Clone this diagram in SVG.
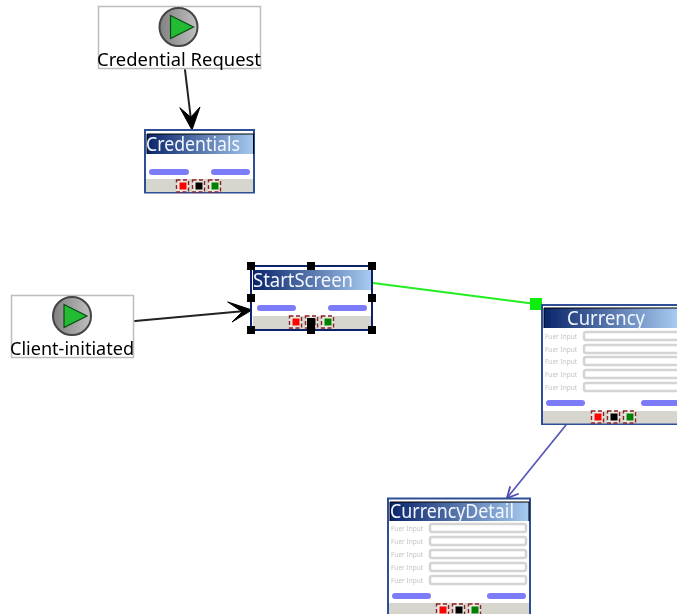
<svg xmlns="http://www.w3.org/2000/svg" width="677" height="614" viewBox="0 0 677 614">
<defs>
<linearGradient id="tb" x1="0" x2="1" y1="0" y2="0"><stop offset="0" stop-color="#0a246a"/><stop offset="1" stop-color="#a6caf0"/></linearGradient>
<linearGradient id="ball" x1="0" x2="1" y1="0" y2="0"><stop offset="0" stop-color="#808080"/><stop offset="1" stop-color="#c0c0c0"/></linearGradient>
<filter id="soft" x="0" y="0" width="677" height="614" filterUnits="userSpaceOnUse"><feGaussianBlur stdDeviation="0.5"/></filter>
<g id="start"><circle r="19" fill="url(#ball)" stroke="#444" stroke-width="2"/><path d="M-8-11.500L15 0L-8 11.500Z" fill="#22bb33" stroke="#0a4a14" stroke-width="1.200"/></g>
<g id="ports">
<rect x="-21.500" y="-6" width="12" height="12" class="pf"/><rect x="-18.500" y="-3.500" width="7" height="7" fill="#f00"/>
<rect x="-5.500" y="-6" width="12" height="12" class="pf"/><rect x="-2.500" y="-3.500" width="7" height="7" fill="#000"/>
<rect x="10.500" y="-6" width="12" height="12" class="pf"/><rect x="13.500" y="-3.500" width="7" height="7" fill="#008000"/>
</g>
<g id="row"><text x="0" y="3" class="inp">Fuer Input</text></g>
</defs>
<style>
text{font-family:"Noto Sans","Open Sans","DejaVu Sans",sans-serif}
.start{fill:#fff;stroke:#bdbdbd;stroke-width:1.500}
.lbl{font-size:18.500px;fill:#000}
.scr{fill:#fff;stroke:#2f4f96;stroke-width:2}
.title{font-size:19px;fill:#f2f6ff}
.foot{fill:#d6d6ce}
.btn{fill:#7c7cf8}
.pf{fill:#e8e8e2;stroke:#8a2020;stroke-width:1.400;stroke-dasharray:4 2.500}
.inp{font-size:6.500px;fill:#c4c4c4}
.fld{fill:#fff;stroke:#d4d4d4;stroke-width:2.500}
.h{fill:#000}
</style>
<rect width="677" height="614" fill="#fff"/>
<g filter="url(#soft)">
<g id="connectors" fill="none" stroke-linecap="round">
<path d="M185 70L191 120" stroke="#222" stroke-width="2"/>
<path d="M180 108L192 130L200 107L191 117Z" fill="#000" stroke="#000"/>
<path d="M135 321L245 311" stroke="#222" stroke-width="2"/>
<path d="M228 302L252 310L232 322L242 312Z" fill="#000" stroke="#000"/>
<path d="M373 283L536 304" stroke="#22ee22" stroke-width="1.800"/>
<rect x="530" y="298" width="12" height="12" fill="#11ee11" stroke="none"/>
<path d="M566 425L507 498" stroke="#5a5ab8" stroke-width="1.800"/>
<path d="M510 487L507 498L518 494" stroke="#4a4ab0" stroke-width="1.800"/>
</g>
<g id="credential-request">
<rect x="98.500" y="6.500" width="162" height="62" class="start"/>
<use href="#start" x="178.500" y="27"/>
<text x="97" y="66" class="lbl" textLength="164" lengthAdjust="spacingAndGlyphs">Credential Request</text>
</g>
<g id="credentials">
<rect x="145" y="130" width="109" height="62.500" class="scr"/>
<rect x="147" y="134" width="107" height="20" fill="url(#tb)"/>
<path d="M147 154V134H253.500V154" fill="none" stroke="#000"/>
<text x="146" y="150.500" class="title" textLength="94" lengthAdjust="spacingAndGlyphs">Credentials</text>
<rect x="149" y="169" width="40" height="6" rx="3" class="btn"/><rect x="211" y="169" width="39" height="6" rx="3" class="btn"/>
<rect x="146" y="179" width="107" height="13" class="foot"/>
<use href="#ports" x="198" y="186"/>
</g>
<g id="client-initiated">
<rect x="11.500" y="295.500" width="122" height="62" class="start"/>
<use href="#start" x="72" y="316"/>
<text x="10" y="355" class="lbl" textLength="124" lengthAdjust="spacingAndGlyphs">Client-initiated</text>
</g>
<g id="startscreen">
<rect x="251" y="266" width="121" height="64" class="scr" style="stroke:#0a246a"/>
<rect x="253" y="270" width="118" height="20" fill="url(#tb)"/>
<text x="253" y="286.500" class="title" textLength="100" lengthAdjust="spacingAndGlyphs">StartScreen</text>
<rect x="257" y="305" width="39" height="6" rx="3" class="btn"/><rect x="328" y="305" width="39" height="6" rx="3" class="btn"/>
<rect x="253" y="316" width="118" height="13" class="foot"/>
<use href="#ports" x="311" y="322"/>
<g class="h">
<rect x="247" y="262" width="8" height="8"/><rect x="307" y="262" width="8" height="8"/><rect x="368" y="262" width="8" height="8"/>
<rect x="247" y="294" width="8" height="8"/><rect x="368" y="294" width="8" height="8"/>
<rect x="247" y="326" width="8" height="8"/><rect x="307" y="326" width="8" height="8"/><rect x="368" y="326" width="8" height="8"/>
<rect x="307" y="318" width="8" height="8"/>
</g>
</g>
<g id="currency">
<rect x="542" y="305" width="140" height="119" class="scr"/>
<rect x="544" y="308" width="133" height="20" fill="url(#tb)"/>
<path d="M544 328V308H677" fill="none" stroke="#000"/>
<text x="567" y="325" class="title" textLength="78" lengthAdjust="spacingAndGlyphs">Currency</text>
<use href="#row" x="545" y="336"/><use href="#row" x="545" y="349"/><use href="#row" x="545" y="361"/><use href="#row" x="545" y="374"/><use href="#row" x="545" y="387"/>
<rect x="584" y="332" width="100" height="8" rx="2" class="fld"/><rect x="584" y="345" width="100" height="8" rx="2" class="fld"/><rect x="584" y="357" width="100" height="8" rx="2" class="fld"/><rect x="584" y="370" width="100" height="8" rx="2" class="fld"/><rect x="584" y="383" width="100" height="8" rx="2" class="fld"/>
<rect x="546" y="400" width="39" height="6" rx="3" class="btn"/><rect x="641" y="400" width="39" height="6" rx="3" class="btn"/>
<rect x="543" y="411" width="134" height="12.500" class="foot"/>
<use href="#ports" x="613" y="417"/>
</g>
<g id="currencydetail">
<rect x="388" y="498.500" width="142" height="120" class="scr"/>
<rect x="390" y="502" width="139" height="19" fill="url(#tb)"/>
<path d="M390 521V502H529V521" fill="none" stroke="#000"/>
<text x="390" y="518" class="title" textLength="124" lengthAdjust="spacingAndGlyphs">CurrencyDetail</text>
<use href="#row" x="391" y="528"/><use href="#row" x="391" y="541"/><use href="#row" x="391" y="554"/><use href="#row" x="391" y="567"/><use href="#row" x="391" y="580"/>
<rect x="430" y="524" width="96" height="8" rx="2" class="fld"/><rect x="430" y="537" width="96" height="8" rx="2" class="fld"/><rect x="430" y="550" width="96" height="8" rx="2" class="fld"/><rect x="430" y="563" width="96" height="8" rx="2" class="fld"/><rect x="430" y="576" width="96" height="8" rx="2" class="fld"/>
<rect x="392" y="593" width="39" height="6" rx="3" class="btn"/><rect x="487" y="593" width="39" height="6" rx="3" class="btn"/>
<rect x="389" y="603" width="140" height="11" class="foot"/>
<use href="#ports" x="458" y="610"/>
</g>
</g>
</svg>
